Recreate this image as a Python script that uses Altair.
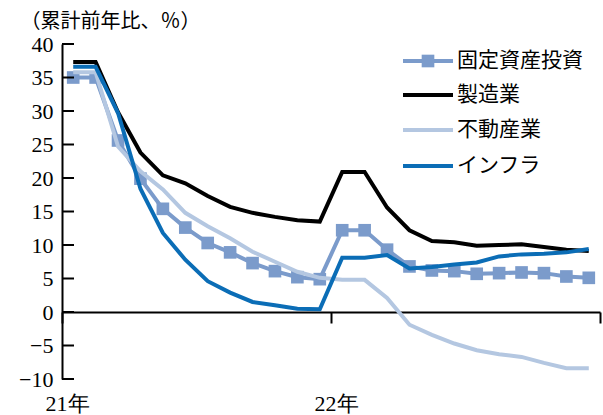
import altair as alt
import pandas as pd

# ---- data ----
months = list(range(24))  # 2021-01 .. 2022-12
series_names = ["固定資産投資", "製造業", "不動産業", "インフラ"]
fai = [35.0, 35.0, 25.6, 19.9, 15.4, 12.6, 10.3, 8.9, 7.3, 6.1, 5.2, 4.9,
       12.2, 12.2, 9.3, 6.8, 6.2, 6.1, 5.7, 5.8, 5.9, 5.8, 5.3, 5.1]
mfg = [37.3, 37.3, 29.8, 23.8, 20.4, 19.2, 17.3, 15.7, 14.8, 14.2, 13.7, 13.5,
       20.9, 20.9, 15.6, 12.2, 10.6, 10.4, 9.9, 10.0, 10.1, 9.7, 9.3, 9.1]
realestate = [35.8, 35.8, 24.7, 21.0, 18.3, 14.8, 12.8, 11.0, 9.0, 7.5, 6.0, 5.1,
              4.8, 4.8, 2.1, -1.9, -3.4, -4.7, -5.7, -6.3, -6.7, -7.6, -8.4, -8.4]
infra = [36.6, 36.6, 29.7, 18.4, 11.8, 7.8, 4.6, 2.9, 1.5, 1.0, 0.5, 0.4,
         8.1, 8.1, 8.5, 6.5, 6.7, 7.1, 7.4, 8.3, 8.6, 8.7, 8.9, 9.4]
y_ticks = [-10, -5, 0, 5, 10, 15, 20, 25, 30, 35, 40]
x_tick_values = [-0.5, 11.5, 23.5]
x_tick_labels = ["21年", "22年", ""]

colors = ["#7B9BCB", "#000000", "#B4C7E1", "#0B6DB6"]
all_series = [fai, mfg, realestate, infra]

W, H = 538, 335
Y_MIN, Y_MAX = -10, 40
NUM_FONT = "Liberation Serif"
JP_FONT = "Noto Sans CJK JP"

label_expr = " : ".join(
    [f"datum.value == {v} ? '{l}'" for v, l in zip(x_tick_values, x_tick_labels)]
) + " : ''"

x_scale = alt.Scale(domain=[-0.5, 23.5], nice=False, zero=False)
y_scale = alt.Scale(domain=[Y_MIN, Y_MAX], nice=False, zero=False)

# x axis drawn along the zero line
zero_offset = -H * (0 - Y_MIN) / (Y_MAX - Y_MIN)

x_axis = alt.Axis(
    values=x_tick_values, labelExpr=label_expr, title=None, grid=False,
    offset=zero_offset, domainColor="black", domainWidth=2,
    tickColor="black", tickWidth=2, tickSize=11,
    labelFont=NUM_FONT, labelFontSize=22, labelColor="black",
    labelPadding=70, labelBaseline="top", labelAlign="center", labelOffset=5,
    labelFlush=False, labelOverlap=False,
)
y_axis = alt.Axis(
    values=y_ticks, grid=False, ticks=False, domainColor="black", domainWidth=2,
    labelFont=NUM_FONT, labelFontSize=22, labelColor="black", labelPadding=9,
    title="（累計前年比、％）", titleAngle=0, titleAlign="left",
    titleBaseline="alphabetic", titleX=-42, titleY=-17,
    titleFont=JP_FONT, titleFontSize=20, titleFontWeight="normal", titleColor="black",
)


def X(field):
    return alt.X(field, scale=x_scale, axis=x_axis)


def Y(field):
    return alt.Y(field, scale=y_scale, axis=y_axis)


layers = []
for i, (name, vals, col) in enumerate(zip(series_names, all_series, colors)):
    d = pd.DataFrame({"m": months, "v": vals, "series": name})
    layers.append(
        alt.Chart(d).mark_line(color=col, strokeWidth=4).encode(x=X("m:Q"), y=Y("v:Q"))
    )
    if i == 0:
        layers.append(
            alt.Chart(d).mark_square(color=col, size=160, opacity=1).encode(
                x=X("m:Q"), y=Y("v:Q")
            )
        )

# inward y-axis ticks
ticks_df = pd.DataFrame({"t": y_ticks})
layers.append(
    alt.Chart(ticks_df).mark_rule(color="black", strokeWidth=2).encode(
        y=Y("t:Q"), x=alt.value(0), x2=alt.value(12)
    )
)

# manual legend
leg_y = [17, 51, 86, 122]
leg_x0, leg_x1, leg_tx = 341, 391, 395
for name, col, ly in zip(series_names, colors, leg_y):
    ld = pd.DataFrame({"series": [name]})
    layers.append(
        alt.Chart(ld).mark_rule(color=col, strokeWidth=4).encode(
            x=alt.value(leg_x0), x2=alt.value(leg_x1), y=alt.value(ly)
        )
    )
    if name == series_names[0]:
        layers.append(
            alt.Chart(ld).mark_square(color=col, size=160, opacity=1).encode(
                x=alt.value((leg_x0 + leg_x1) / 2), y=alt.value(ly)
            )
        )
    layers.append(
        alt.Chart(ld).mark_text(
            font=JP_FONT, fontSize=21, align="left", baseline="middle", color="black"
        ).encode(x=alt.value(leg_tx), y=alt.value(ly), text="series:N")
    )

chart = alt.layer(*layers).properties(
    width=W, height=H,
    autosize=alt.AutoSizeParams(type="none"),
    padding={"left": 62, "top": 44, "right": 3, "bottom": 36},
    background="white",
).configure_view(strokeWidth=0)

chart.save("out.html", embed_options={"renderer": "svg", "actions": False})
